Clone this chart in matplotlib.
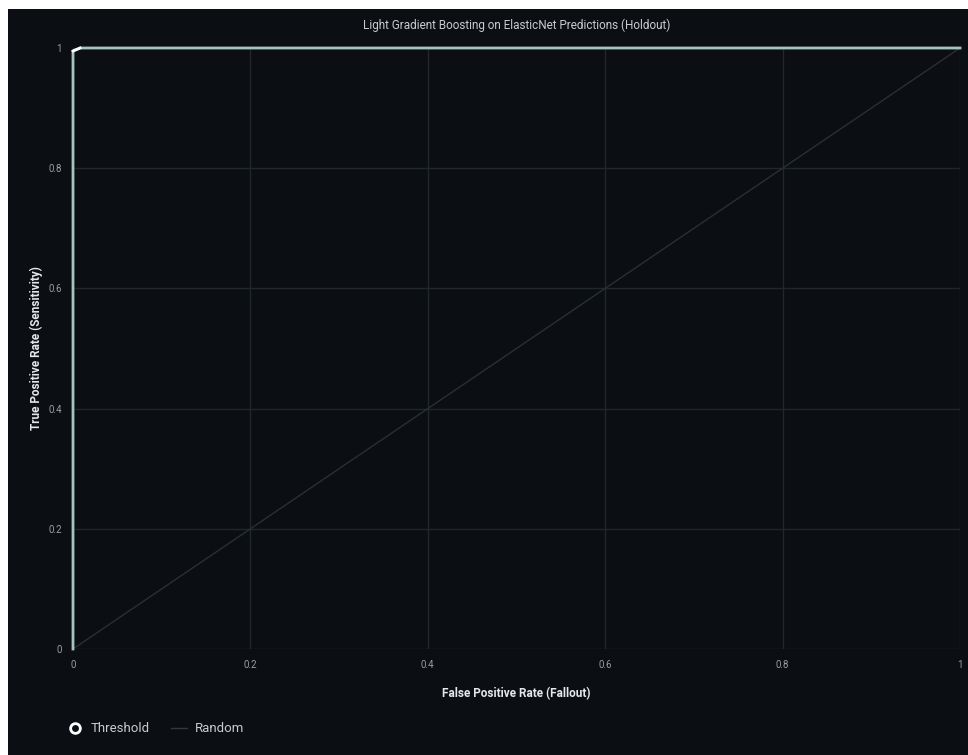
import matplotlib
matplotlib.use("Agg")
import matplotlib.pyplot as plt
from matplotlib.patches import Rectangle
from matplotlib.lines import Line2D

plt.rcParams['font.family'] = ['Roboto', 'DejaVu Sans']

# ROC curve points
fpr = [0.0, 0.0, 0.008, 1.0]
tpr = [0.0, 0.995, 1.0, 1.0]
# Random baseline
rand_x = [0.0, 1.0]
rand_y = [0.0, 1.0]
ticks = [0, 0.2, 0.4, 0.6, 0.8, 1]
tick_labels = ["0", "0.2", "0.4", "0.6", "0.8", "1"]

BG = "#0b0f14"
GRID = "#22272c"
CURVE = "#a3c4bf"
TEXT = "#c9cccf"

fig = plt.figure(figsize=(9.68, 7.55), dpi=100, facecolor=BG)
# white margins at the top and left edges
fig.patches.append(Rectangle((0, 1 - 9 / 755), 1, 9 / 755, transform=fig.transFigure,
                             facecolor="white", edgecolor="none", zorder=10))
fig.patches.append(Rectangle((0, 0), 8 / 968, 1, transform=fig.transFigure,
                             facecolor="white", edgecolor="none", zorder=10))

ax = fig.add_axes([73 / 968, 1 - 649 / 755, 887 / 968, 601 / 755])
ax.set_facecolor(BG)
ax.set_xlim(0, 1)
ax.set_ylim(0, 1)
for s in ax.spines.values():
    s.set_visible(False)
ax.set_xticks(ticks)
ax.set_xticklabels(tick_labels)
ax.set_yticks(ticks)
ax.set_yticklabels(tick_labels)
ax.tick_params(length=0, colors="#9a9ea3", labelsize=7, pad=8)
ax.grid(True, color=GRID, linewidth=1)
ax.set_axisbelow(True)

ax.plot(rand_x, rand_y, color="#2a2f34", linewidth=1, zorder=2)
ax.plot(fpr, tpr, color=CURVE, linewidth=2, zorder=3, clip_on=False)
ax.plot(fpr[1:3], tpr[1:3], color="white", linewidth=2, zorder=4, clip_on=False)

ax.set_title("Light Gradient Boosting on ElasticNet Predictions (Holdout)",
             color=TEXT, fontsize=8.5, pad=14)
ax.set_xlabel("False Positive Rate (Fallout)", color="#e6e8ea", fontsize=8.5,
              fontweight="bold", labelpad=12)
ax.set_ylabel("True Positive Rate (Sensitivity)", color="#e6e8ea", fontsize=8.5,
              fontweight="bold", labelpad=4)

handles = [
    Line2D([], [], marker="o", linestyle="none", markersize=7, markerfacecolor="none",
           markeredgecolor="white", markeredgewidth=2, label="Threshold"),
    Line2D([], [], color="#33383d", linewidth=1, label="Random"),
]
fig.legend(handles=handles, loc="lower left", bbox_to_anchor=(55 / 968, 8 / 755),
           ncol=2, frameon=False, fontsize=9.5, labelcolor=TEXT, handlelength=1.2,
           columnspacing=1.6, handletextpad=0.6)

fig.savefig("out.png", dpi=100, facecolor=BG)
